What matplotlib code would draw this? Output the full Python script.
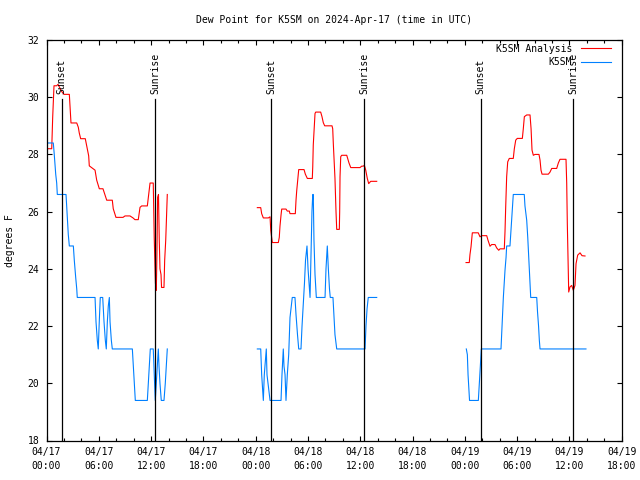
import numpy as np
import matplotlib
matplotlib.use("Agg")
import matplotlib.pyplot as plt
from matplotlib.ticker import MultipleLocator, FixedLocator

NAN = float("nan")

# time in hours since 2024-04-17 00:00 UTC
red_t = [0.05, 0.60, 0.71, 0.86, 1.17, 1.32, 1.74, 2.01, 2.62, 2.81, 3.47, 3.65, 3.76, 3.92,
         4.45, 4.61, 4.84, 4.91, 5.57, 5.76, 6.06, 6.48, 6.75, 6.91, 7.55, 7.66, 7.97, 8.78,
         9.01, 9.58, 9.93, 10.15, 10.53, 10.73, 10.92, 11.57, 11.73, 11.88, 12.25, 12.36,
         12.50, 12.60, 12.67, 12.75, 12.85, 12.94, 13.02, 13.14, 13.20, 13.48, 13.56, 13.68,
         13.79, 13.86,
         NAN,
         24.19, 24.58, 24.69, 24.88, 25.45, 25.65, 25.73, 25.91, 26.60, 26.71, 26.79, 26.91,
         26.99, 27.48, 27.63, 27.86, 27.94, 28.55, 28.63, 28.71, 28.86, 28.94, 29.55, 29.70,
         29.93, 30.50, 30.55, 30.61, 30.81, 30.89, 31.46, 31.61, 31.76, 31.92, 32.76, 32.84,
         32.91, 33.10, 33.22, 33.30, 33.60, 33.64, 33.68, 33.76, 33.87, 34.45, 34.56, 34.71,
         34.91, 35.97, 36.17, 36.35, 36.47, 36.63, 36.81, 36.97, 37.20, 37.89,
         NAN,
         48.14, 48.51, 48.59, 48.71, 48.86, 49.54, 49.74, 49.94, 50.51, 50.66, 50.89, 51.08,
         51.46, 51.66, 51.89, 52.04, 52.53, 52.61, 52.69, 52.80, 52.92, 53.10, 53.56, 53.68,
         53.84, 54.02, 54.60, 54.71, 54.83, 55.10, 55.48, 55.60, 55.71, 55.86, 56.05, 56.51,
         56.63, 56.74, 56.86, 57.58, 57.77, 57.97, 58.54, 58.73, 58.92, 59.61, 59.69, 59.76,
         59.87, 59.92, 60.07, 60.26, 60.45, 60.64, 60.76, 60.95, 61.22, 61.45, 61.79]
red_v = [28.2, 28.2, 29.3, 30.4, 30.4, 30.45, 30.2, 30.1, 30.1, 29.1, 29.1, 28.95, 28.75, 28.55,
         28.55, 28.3, 27.95, 27.6, 27.45, 27.1, 26.8, 26.8, 26.55, 26.4, 26.4, 26.1, 25.8, 25.8,
         25.85, 25.85, 25.78, 25.72, 25.72, 26.15, 26.2, 26.2, 26.6, 27.0, 27.0, 25.1,
         23.5, 23.25, 24.5, 26.5, 26.6, 25.0, 24.0, 23.8, 23.35, 23.35, 24.3, 25.0,
         26.0, 26.6,
         NAN,
         26.14, 26.14, 25.93, 25.78, 25.78, 25.82, 25.35, 24.92, 24.92, 25.1, 25.49, 25.88,
         26.09, 26.09, 26.02, 26.02, 25.93, 25.93, 26.4, 26.73, 27.19, 27.47, 27.47, 27.31,
         27.16, 27.16, 27.57, 28.33, 29.43, 29.48, 29.48, 29.32, 29.11, 29.0, 29.0, 28.9,
         28.38, 27.16, 25.99, 25.38, 25.38, 26.0, 27.22, 27.92, 27.97, 27.97, 27.86, 27.7,
         27.54, 27.54, 27.59, 27.59, 27.62, 27.45, 27.16, 26.98, 27.06, 27.06,
         NAN,
         24.22, 24.22, 24.5, 24.77, 25.26, 25.26, 25.12, 25.16, 25.16, 25.0, 24.79, 24.85,
         24.85, 24.73, 24.65, 24.7, 24.7, 25.3, 26.17, 27.22, 27.74, 27.86, 27.86, 28.2,
         28.5, 28.56, 28.56, 28.9, 29.32, 29.38, 29.38, 28.9, 28.15, 27.97, 28.0, 28.0,
         27.8, 27.45, 27.31, 27.31, 27.38, 27.51, 27.51, 27.7, 27.83, 27.83, 27.0, 25.58,
         23.95, 23.19, 23.37, 23.42, 23.25, 23.42, 24.18, 24.48, 24.56, 24.46, 24.45]

blue_t = [0.05, 0.78, 0.89, 1.06, 1.17, 1.24, 2.24, 2.35, 2.50, 2.62, 3.08, 3.19, 3.35, 3.47,
          3.53, 5.57, 5.68, 5.83, 5.94, 6.06, 6.17, 6.45, 6.60, 6.75, 6.86, 6.98, 7.09, 7.21,
          7.29, 7.44, 7.55, 9.85, 9.96, 10.07, 10.19, 11.57, 11.68, 11.80, 11.91, 12.25, 12.36,
          12.48, 12.60, 12.71, 12.83, 12.91, 13.02, 13.17, 13.48, 13.63, 13.75, 13.86,
          NAN,
          24.19, 24.58, 24.69, 24.88, 24.99, 25.22, 25.30, 25.42, 25.65, 26.91, 27.02, 27.17,
          27.25, 27.37, 27.48, 27.63, 27.79, 27.94, 28.09, 28.20, 28.51, 28.63, 28.80, 28.94,
          29.20, 29.32, 29.43, 29.60, 29.72, 29.89, 30.01, 30.12, 30.24, 30.35, 30.46, 30.55,
          30.61, 30.69, 30.81, 30.96, 31.96, 32.07, 32.22, 32.34, 32.47, 32.56, 32.87, 32.99,
          33.10, 33.30, 36.55, 36.66, 36.78, 36.92, 37.89,
          NAN,
          48.17, 48.29, 48.37, 48.48, 48.54, 49.55, 49.67, 49.78, 49.89, 52.15, 52.27, 52.38,
          52.42, 52.61, 52.73, 52.80, 53.18, 53.29, 53.37, 53.49, 53.56, 54.82, 54.90, 55.10,
          55.22, 55.33, 55.48, 55.56, 56.25, 56.34, 56.46, 56.55, 56.63, 61.90]
blue_v = [28.4, 28.4, 28.0, 27.3, 27.0, 26.6, 26.6, 26.0, 25.2, 24.8, 24.8, 24.3, 23.7, 23.3,
          23.0, 23.0, 22.15, 21.5, 21.2, 22.2, 23.0, 23.0, 22.15, 21.5, 21.2, 22.15, 22.7, 23.0,
          22.15, 21.5, 21.2, 21.2, 20.6, 20.0, 19.4, 19.4, 20.0, 20.6, 21.2, 21.2, 20.3,
          19.4, 20.0, 20.6, 21.2, 20.6, 20.0, 19.4, 19.4, 20.0, 20.6, 21.2,
          NAN,
          21.2, 21.2, 20.3, 19.4, 20.3, 21.2, 20.3, 20.0, 19.4, 19.4, 20.3, 21.2,
          20.6, 20.3, 19.4, 20.3, 21.0, 22.3, 22.7, 23.0, 23.0, 22.4, 21.7, 21.2,
          21.2, 22.0, 22.6, 23.5, 24.3, 24.8, 24.0, 23.5, 23.0, 24.5, 26.0, 26.6,
          26.6, 25.0, 23.8, 23.0, 23.0, 24.0, 24.8, 24.0, 23.3, 23.0, 23.0, 22.3,
          21.7, 21.2, 21.2, 22.0, 22.6, 23.0, 23.0,
          NAN,
          21.2, 21.0, 20.3, 19.7, 19.4, 19.4, 20.0, 20.6, 21.2, 21.2, 22.0, 22.8,
          23.0, 23.95, 24.4, 24.8, 24.8, 25.3, 25.7, 26.3, 26.6, 26.6, 26.2, 25.7,
          25.1, 24.4, 23.4, 23.0, 23.0, 22.5, 22.0, 21.5, 21.2, 21.2]

sunset_t = [1.75, 25.75, 49.80]
sunrise_t = [12.48, 36.47, 60.45]

xtick_pos = [0, 6, 12, 18, 24, 30, 36, 42, 48, 54, 60, 66]
xtick_labels = ["04/17\n00:00", "04/17\n06:00", "04/17\n12:00", "04/17\n18:00",
                "04/18\n00:00", "04/18\n06:00", "04/18\n12:00", "04/18\n18:00",
                "04/19\n00:00", "04/19\n06:00", "04/19\n12:00", "04/19\n18:00"]
yticks = [18, 20, 22, 24, 26, 28, 30, 32]

FONT = "DejaVu Sans Mono"
FS = 7

fig = plt.figure(figsize=(6.4, 4.8), dpi=100)
ax = fig.add_axes([46.5 / 640, 1 - 440.5 / 480, (621.7 - 46.5) / 640, (440.5 - 40) / 480])

ax.plot(red_t, red_v, color="#ff0000", lw=0.8, label="K5SM Analysis")
ax.plot(blue_t, blue_v, color="#0080ff", lw=0.8, label="K5SM")

line_top = (440.5 - 99) / 400.5
text_bot = (440.5 - 94) / 400.5
for t in sunset_t:
    ax.axvline(t, ymin=0, ymax=line_top, color="black", lw=0.9)
    ax.text(t, text_bot, "Sunset", rotation=90, ha="center", va="bottom",
            transform=ax.get_xaxis_transform(), fontsize=FS, family=FONT)
for t in sunrise_t:
    ax.axvline(t, ymin=0, ymax=line_top, color="black", lw=0.9)
    ax.text(t, text_bot, "Sunrise", rotation=90, ha="center", va="bottom",
            transform=ax.get_xaxis_transform(), fontsize=FS, family=FONT)

ax.set_xlim(0, 66)
ax.set_ylim(18, 32)
ax.xaxis.set_major_locator(FixedLocator(xtick_pos))
ax.set_xticklabels(xtick_labels, fontsize=FS, family=FONT, linespacing=1.5)
ax.xaxis.set_minor_locator(MultipleLocator(2))
ax.set_yticks(yticks)
ax.set_yticklabels([str(v) for v in yticks], fontsize=FS, family=FONT)
ax.tick_params(which="major", direction="in", length=3.4, width=0.8, top=True, right=True)
ax.tick_params(which="minor", direction="in", length=2.2, width=0.8, top=True, right=True)
ax.tick_params(axis="x", which="major", pad=5)
ax.tick_params(axis="y", which="major", pad=5)
for s in ax.spines.values():
    s.set_linewidth(0.9)

ax.set_ylabel("degrees F", fontsize=FS, family=FONT, labelpad=9)
ax.set_title("Dew Point for K5SM on 2024-Apr-17 (time in UTC)", fontsize=FS, family=FONT, pad=12)

leg = ax.legend(loc="upper right", bbox_to_anchor=(0.993, 1.008), frameon=False,
                markerfirst=False, handlelength=3.1, handletextpad=0.9,
                labelspacing=0.35, borderaxespad=0.3,
                prop={"family": FONT, "size": FS})

fig.savefig("out.png", dpi=100)
